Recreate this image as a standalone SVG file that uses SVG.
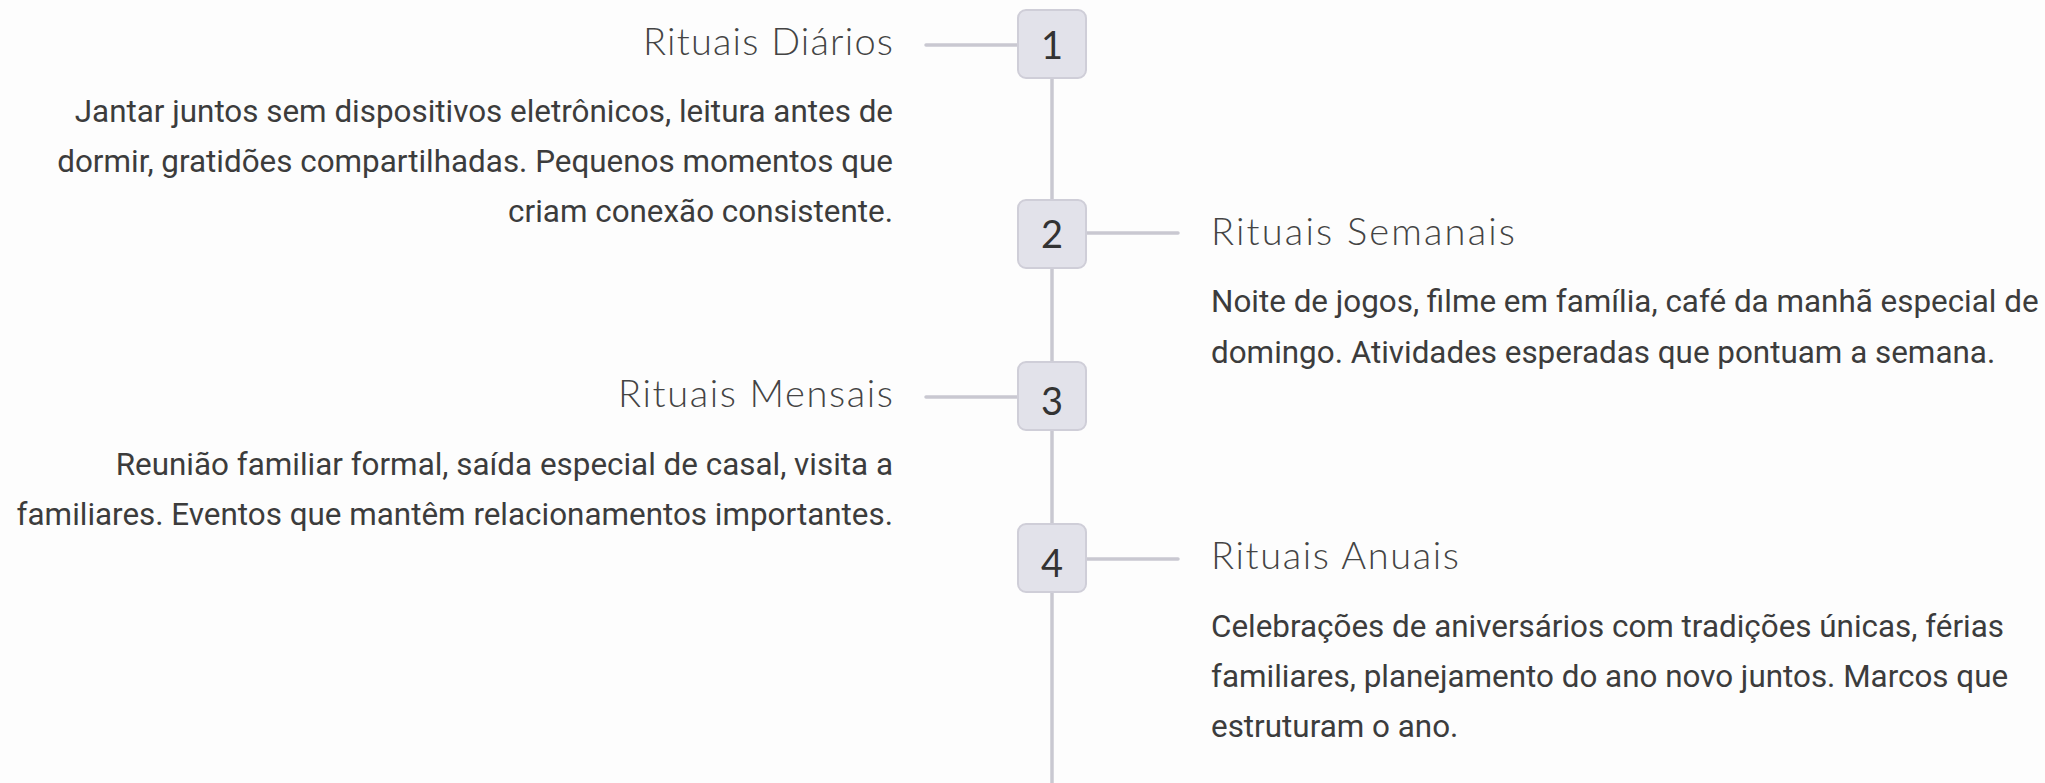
<svg xmlns="http://www.w3.org/2000/svg" width="2045" height="783" viewBox="0 0 2045 783">
<style>
.bg{fill:#fdfdfd}
.ln{stroke:#c9c8d1;stroke-width:3.5;fill:none;stroke-linecap:round}
.box{fill:#e2e2ea;stroke:#cfced8;stroke-width:2}
.num{font-family:Lato,"Open Sans",sans-serif;font-weight:400;font-size:38px;fill:#333;text-anchor:middle}
.ttl{font-family:Lato,"Open Sans",sans-serif;font-weight:300;font-size:38px;fill:#444}
.bd{font-family:Roboto,"Liberation Sans",sans-serif;font-size:31.4px;fill:#3c3c3c}
.r{text-anchor:end}
</style>
<rect class="bg" x="0" y="0" width="2045" height="783"/>
<g id="connectors">
<line class="ln" x1="1052" y1="78" x2="1052" y2="790"/>
<line class="ln" x1="926" y1="45" x2="1018" y2="45"/>
<line class="ln" x1="1086" y1="233" x2="1178" y2="233"/>
<line class="ln" x1="926" y1="397" x2="1018" y2="397"/>
<line class="ln" x1="1086" y1="559" x2="1178" y2="559"/>
</g>
<g id="node1">
<rect class="box" x="1018" y="10" width="68" height="68" rx="8"/>
<text class="num" x="1052" y="59">1</text>
<text class="ttl r" x="893" y="55" textLength="250" lengthAdjust="spacing">Rituais Diários</text>
<text class="bd r" x="893" y="122">Jantar juntos sem dispositivos eletrônicos, leitura antes de</text>
<text class="bd r" x="893" y="172">dormir, gratidões compartilhadas. Pequenos momentos que</text>
<text class="bd r" x="893" y="222">criam conexão consistente.</text>
</g>
<g id="node2">
<rect class="box" x="1018" y="200" width="68" height="68" rx="8"/>
<text class="num" x="1052" y="248">2</text>
<text class="ttl" x="1211" y="245" textLength="304" lengthAdjust="spacing">Rituais Semanais</text>
<text class="bd" x="1211" y="312">Noite de jogos, filme em família, café da manhã especial de</text>
<text class="bd" x="1211" y="363">domingo. Atividades esperadas que pontuam a semana.</text>
</g>
<g id="node3">
<rect class="box" x="1018" y="362" width="68" height="68" rx="8"/>
<text class="num" x="1052" y="415">3</text>
<text class="ttl r" x="893" y="407" textLength="275" lengthAdjust="spacing">Rituais Mensais</text>
<text class="bd r" x="893" y="475">Reunião familiar formal, saída especial de casal, visita a</text>
<text class="bd r" x="893" y="525">familiares. Eventos que mantêm relacionamentos importantes.</text>
</g>
<g id="node4">
<rect class="box" x="1018" y="524" width="68" height="68" rx="8"/>
<text class="num" x="1052" y="577">4</text>
<text class="ttl" x="1211" y="569" textLength="248" lengthAdjust="spacing">Rituais Anuais</text>
<text class="bd" x="1211" y="637">Celebrações de aniversários com tradições únicas, férias</text>
<text class="bd" x="1211" y="687">familiares, planejamento do ano novo juntos. Marcos que</text>
<text class="bd" x="1211" y="737">estruturam o ano.</text>
</g>
</svg>
